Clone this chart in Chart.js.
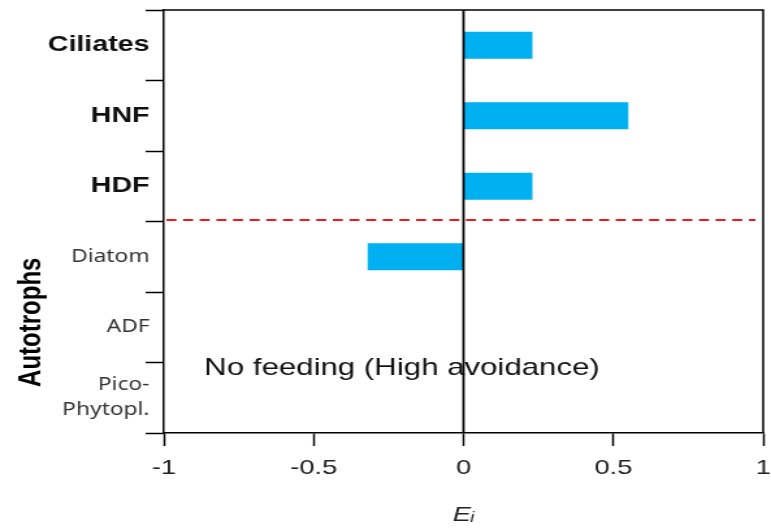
<!DOCTYPE html>
<html>
<head>
<meta charset="utf-8">
<script src="https://cdn.jsdelivr.net/npm/chart.js@4/dist/chart.umd.min.js"></script>
<style>
  html, body { margin: 0; padding: 0; background: #fff; overflow: hidden; }
  /* the figure is drawn narrow and widened horizontally */
  #wrap { width: 593px; height: 531px; transform: scaleX(1.30017); transform-origin: 0 0; }
</style>
</head>
<body>
<div id="wrap"><canvas id="c" width="593" height="531"></canvas></div>
<script>
// Prey groups (top: heterotrophs, bottom: autotrophs)
const categories = ['Ciliates', 'HNF', 'HDF', 'Diatom', 'ADF', ['Pico-', 'Phytopl.']];
// Electivity index E_i for each prey group (no value = not eaten)
const selectivity = [0.23, 0.55, 0.23, -0.32, null, null];
const heterotrophCount = 3;
const xTicks = [-1, -0.5, 0, 0.5, 1];
const xTickLabels = ['-1', '-0.5', '0', '0.5', '1'];
const groupTitle = 'Autotrophs';
const noteText = 'No feeding (High avoidance)';
const axisTitle = 'Eᵢ';

const SANS = '"Liberation Sans", Arial, sans-serif';

// keep the plot box fixed: no extra room reserved for overhanging tick labels
function noLabelPadding(s) {
  s.paddingTop = 0; s.paddingBottom = 0; s.paddingLeft = 0; s.paddingRight = 0;
}

const decorations = {
  id: 'decorations',
  beforeDatasetsDraw(chart) {
    const { ctx, scales: { x, y } } = chart;
    ctx.save();
    ctx.font = '24px ' + SANS;
    ctx.fillStyle = '#111';
    ctx.textBaseline = 'alphabetic';
    ctx.textAlign = 'left';
    ctx.fillText(noteText, x.getPixelForValue(-0.865), y.getPixelForValue(4.5) + 12);
    ctx.restore();
  },
  afterDatasetsDraw(chart) {
    const { ctx, chartArea: a, scales: { x, y } } = chart;
    ctx.save();
    // zero line
    const x0 = x.getPixelForValue(0);
    ctx.strokeStyle = '#000';
    ctx.lineWidth = 1.8;
    ctx.beginPath();
    ctx.moveTo(x0, a.top);
    ctx.lineTo(x0, a.bottom);
    ctx.stroke();
    // top and right frame
    ctx.lineWidth = 1.5;
    ctx.beginPath();
    ctx.moveTo(a.left, a.top);
    ctx.lineTo(a.right, a.top);
    ctx.lineTo(a.right, a.bottom);
    ctx.stroke();
    // separator between heterotrophs and autotrophs
    const ys = Math.round(y.getPixelForValue(heterotrophCount - 0.5)) - 2;
    ctx.strokeStyle = '#f01818';
    ctx.lineWidth = 2;
    ctx.setLineDash([7.7, 5.1]);
    ctx.beginPath();
    ctx.moveTo(a.left + 2, ys);
    ctx.lineTo(a.right - 6, ys);
    ctx.stroke();
    ctx.setLineDash([]);
    // group title beside the autotroph rows
    const yc = (y.getPixelForValue(heterotrophCount) + y.getPixelForValue(categories.length - 1)) / 2 - 5;
    ctx.translate(24, yc);
    ctx.rotate(-Math.PI / 2);
    ctx.font = 'bold 24px ' + SANS;
    ctx.fillStyle = '#000';
    ctx.textAlign = 'center';
    ctx.textBaseline = 'middle';
    ctx.fillText(groupTitle, 0, 0);
    ctx.restore();
  }
};

new Chart(document.getElementById('c'), {
  type: 'bar',
  data: {
    labels: categories,
    datasets: [{
      data: selectivity,
      backgroundColor: '#00b0f0',
      borderWidth: 0,
      barPercentage: 0.385,
      categoryPercentage: 1
    }]
  },
  options: {
    indexAxis: 'y',
    responsive: false,
    animation: false,
    layout: { padding: { top: 10, right: 6, left: 0, bottom: 0 } },
    plugins: { legend: { display: false }, tooltip: { enabled: false } },
    scales: {
      x: {
        min: -1,
        max: 1,
        afterBuildTicks(s) { s.ticks = xTicks.map(v => ({ value: v })); },
        grid: { drawOnChartArea: false, drawTicks: true, tickLength: 13, tickWidth: 1.5, tickColor: '#000' },
        border: { display: true, color: '#000', width: 1.5 },
        ticks: {
          padding: 10,
          color: '#222',
          font: { family: SANS, size: 21 },
          callback: (v, i) => xTickLabels[i]
        },
        title: {
          display: true,
          text: axisTitle,
          color: '#222',
          font: { family: SANS, size: 21, style: 'italic' },
          padding: { top: 0, bottom: 3 }
        },
        afterFit(s) { s.height = 98; noLabelPadding(s); }
      },
      y: {
        offset: true,
        grid: { offset: true, drawOnChartArea: false, drawTicks: true, tickLength: 14, tickWidth: 1.5, tickColor: '#000' },
        border: { display: true, color: '#000', width: 1.5 },
        ticks: {
          padding: -3,
          color: ctx => ctx.index < heterotrophCount ? '#111' : '#333',
          font: ctx => ctx.index < heterotrophCount
            ? { family: SANS, size: 22, weight: 'bold' }
            : { family: '"Noto Sans", sans-serif', size: 17.5, lineHeight: 1.45 }
        },
        afterFit(s) { s.width = 126; noLabelPadding(s); }
      }
    }
  },
  plugins: [decorations]
});
</script>
</body>
</html>
